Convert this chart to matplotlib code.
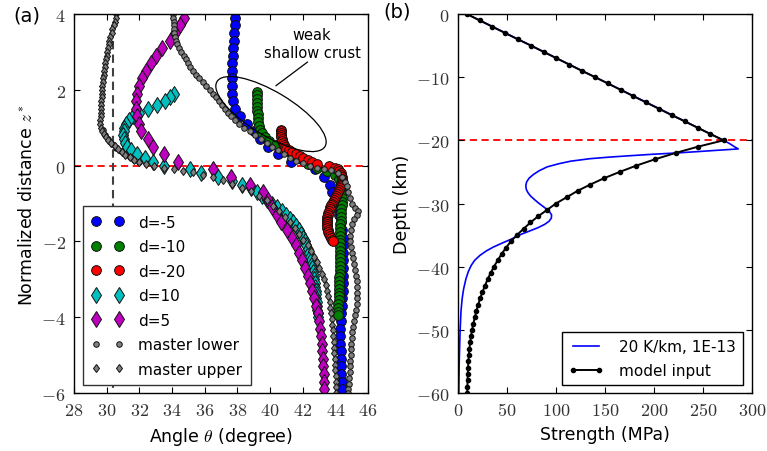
import matplotlib
matplotlib.use("Agg")
import matplotlib.pyplot as plt
from matplotlib.patches import Ellipse
from matplotlib.ticker import FuncFormatter, MultipleLocator
from matplotlib.transforms import ScaledTranslation

plt.rcParams["font.family"] = ["DejaVu Sans"]
plt.rcParams["mathtext.fontset"] = "cm"

# ---- panel (a): (normalized distance z*, angle theta) ----
D_M5 = [(3.9, 37.88), (3.7, 37.84), (3.5, 37.80), (3.3, 37.78), (3.1, 37.75), (2.9, 37.72),
        (2.7, 37.69), (2.5, 37.67), (2.3, 37.65), (2.1, 37.65), (1.9, 37.67), (1.7, 37.72),
        (1.5, 37.84), (1.3, 38.15), (1.1, 38.60), (0.9, 39.00), (0.7, 39.40), (0.5, 39.85),
        (0.3, 40.50), (0.1, 41.30), (-0.1, 42.75), (-0.3, 43.30), (-0.5, 43.65), (-0.7, 43.82),
        (-0.9, 43.98), (-1.1, 44.10), (-1.3, 44.25), (-1.5, 44.35), (-1.7, 44.42), (-1.9, 44.46),
        (-2.1, 44.48), (-2.3, 44.48), (-2.5, 44.48), (-2.7, 44.47), (-2.9, 44.46), (-3.1, 44.45),
        (-3.3, 44.44), (-3.5, 44.42), (-3.7, 44.40), (-3.9, 44.36), (-4.1, 44.32), (-4.3, 44.30),
        (-4.5, 44.30), (-4.7, 44.31), (-4.9, 44.33), (-5.1, 44.35), (-5.3, 44.36), (-5.5, 44.37),
        (-5.7, 44.38), (-5.9, 44.39)]

D_M10 = [(1.95, 39.19), (1.85, 39.20), (1.75, 39.20), (1.65, 39.21), (1.55, 39.22), (1.45, 39.23),
         (1.35, 39.24), (1.25, 39.26), (1.15, 39.28), (1.05, 39.32), (0.95, 39.40), (0.85, 39.50),
         (0.75, 39.68), (0.65, 39.95), (0.55, 40.35), (0.45, 40.80), (0.35, 41.25), (0.25, 41.65),
         (0.15, 42.00), (0.05, 42.30), (-0.05, 42.85), (-0.15, 43.50), (-0.25, 43.95), (-0.35, 44.20),
         (-0.45, 44.33), (-0.55, 44.38), (-0.65, 44.40), (-0.75, 44.40), (-0.85, 44.40), (-0.95, 44.39),
         (-1.05, 44.38), (-1.15, 44.37), (-1.25, 44.36), (-1.35, 44.35), (-1.45, 44.33), (-1.55, 44.31),
         (-1.65, 44.30), (-1.75, 44.29), (-1.85, 44.28), (-1.95, 44.27), (-2.05, 44.26), (-2.15, 44.26),
         (-2.25, 44.26), (-2.35, 44.27), (-2.45, 44.28), (-2.55, 44.28), (-2.65, 44.28), (-2.75, 44.27),
         (-2.85, 44.26), (-2.95, 44.25), (-3.05, 44.24), (-3.15, 44.23), (-3.25, 44.22), (-3.35, 44.21),
         (-3.45, 44.20), (-3.55, 44.20), (-3.65, 44.19), (-3.75, 44.19), (-3.85, 44.19), (-3.95, 44.19)]

D_M20 = [(0.95, 40.68), (0.90, 40.68), (0.85, 40.69), (0.80, 40.69), (0.75, 40.70), (0.70, 40.71),
         (0.65, 40.74), (0.60, 40.78), (0.55, 40.84), (0.50, 40.90), (0.45, 41.00), (0.40, 41.15),
         (0.35, 41.35), (0.30, 41.60), (0.25, 41.85), (0.20, 42.05), (0.15, 42.30), (0.10, 42.55),
         (0.05, 42.85), (0.00, 43.60), (-0.05, 44.00), (-0.10, 44.15), (-0.15, 44.25), (-0.20, 44.32),
         (-0.25, 44.36), (-0.30, 44.38), (-0.35, 44.39), (-0.40, 44.39), (-0.45, 44.38), (-0.50, 44.35),
         (-0.55, 44.32), (-0.60, 44.28), (-0.65, 44.23), (-0.70, 44.17), (-0.75, 44.11), (-0.80, 44.05),
         (-0.85, 43.99), (-0.90, 43.93), (-0.95, 43.87), (-1.00, 43.81), (-1.05, 43.75), (-1.10, 43.70),
         (-1.15, 43.65), (-1.20, 43.60), (-1.25, 43.56), (-1.30, 43.52), (-1.35, 43.50), (-1.40, 43.48),
         (-1.45, 43.47), (-1.50, 43.47), (-1.55, 43.48), (-1.60, 43.49), (-1.65, 43.51), (-1.70, 43.54),
         (-1.75, 43.57), (-1.80, 43.61), (-1.85, 43.66), (-1.90, 43.72), (-1.95, 43.78), (-2.00, 43.84)]

D_P10 = [(1.9, 34.15), (1.8, 33.90), (1.7, 33.55), (1.6, 33.10), (1.5, 32.55), (1.4, 31.98),
         (1.3, 31.62), (1.2, 31.37), (1.1, 31.20), (1.0, 31.08), (0.9, 31.03), (0.8, 31.02),
         (0.7, 31.04), (0.6, 31.10), (0.5, 31.25), (0.4, 31.50), (0.3, 31.85), (0.2, 32.35),
         (0.1, 32.85), (0.0, 33.50), (-0.1, 35.10), (-0.2, 35.80), (-0.3, 36.80), (-0.4, 37.70),
         (-0.5, 38.30), (-0.6, 38.85), (-0.7, 39.20), (-0.8, 39.50), (-0.9, 39.80), (-1.0, 40.15),
         (-1.1, 40.45), (-1.2, 40.75), (-1.3, 41.00), (-1.4, 41.20), (-1.5, 41.40), (-1.6, 41.58),
         (-1.7, 41.75), (-1.8, 41.90), (-1.9, 42.02), (-2.0, 42.12), (-2.1, 42.22), (-2.2, 42.30),
         (-2.3, 42.38), (-2.4, 42.45), (-2.5, 42.50), (-2.6, 42.55), (-2.7, 42.60), (-2.8, 42.64),
         (-2.9, 42.68), (-3.0, 42.71), (-3.1, 42.74), (-3.2, 42.77), (-3.3, 42.79), (-3.4, 42.81),
         (-3.5, 42.83), (-3.6, 42.85), (-3.7, 42.87), (-3.8, 42.89), (-3.9, 42.91), (-4.0, 42.93)]

D_P5 = [(3.9, 34.74), (3.7, 34.50), (3.5, 34.20), (3.3, 33.90), (3.1, 33.40), (2.9, 33.05),
        (2.7, 32.70), (2.5, 32.40), (2.3, 32.18), (2.1, 31.98), (1.9, 31.86), (1.7, 31.78),
        (1.5, 31.77), (1.3, 31.83), (1.1, 31.95), (0.9, 32.10), (0.7, 32.50), (0.5, 32.86),
        (0.3, 33.50), (0.1, 34.35), (-0.1, 36.50), (-0.3, 37.60), (-0.5, 38.75), (-0.7, 39.60),
        (-0.9, 39.90), (-1.1, 40.15), (-1.3, 40.40), (-1.5, 40.70), (-1.7, 41.05), (-1.9, 41.35),
        (-2.1, 41.60), (-2.3, 41.80), (-2.5, 41.98), (-2.7, 42.17), (-2.9, 42.33), (-3.1, 42.45),
        (-3.3, 42.60), (-3.5, 42.70), (-3.7, 42.83), (-3.9, 42.93), (-4.1, 43.02), (-4.3, 43.08),
        (-4.5, 43.13), (-4.7, 43.17), (-4.9, 43.20), (-5.1, 43.23), (-5.3, 43.26), (-5.5, 43.28),
        (-5.7, 43.30), (-5.9, 43.31)]

MASTER_LOWER = [(4.0, 34.07), (3.9, 34.08), (3.8, 34.10), (3.7, 34.11), (3.6, 34.12), (3.5, 34.13),
                (3.4, 34.18), (3.3, 34.25), (3.2, 34.33), (3.1, 34.45), (3.0, 34.58), (2.9, 34.72),
                (2.8, 34.86), (2.7, 35.00), (2.6, 35.12), (2.5, 35.30), (2.4, 35.48), (2.3, 35.68),
                (2.2, 35.90), (2.1, 36.10), (2.0, 36.30), (1.9, 36.48), (1.8, 36.67), (1.7, 36.85),
                (1.6, 37.03), (1.5, 37.22), (1.4, 37.42), (1.3, 37.62), (1.2, 37.85), (1.1, 38.10),
                (1.0, 38.40), (0.9, 38.75), (0.8, 39.10), (0.7, 39.45), (0.6, 39.80), (0.5, 40.15),
                (0.4, 40.50), (0.3, 40.85), (0.2, 41.20), (0.12, 41.60), (0.06, 42.00), (0.0, 42.45),
                (-0.05, 42.90), (-0.09, 43.30), (-0.12, 43.75), (-0.2, 44.15), (-0.3, 44.40),
                (-0.42, 44.58), (-0.55, 44.70), (-0.7, 44.80), (-0.85, 44.90), (-1.0, 45.02),
                (-1.12, 45.20), (-1.2, 45.40), (-1.3, 45.30), (-1.42, 45.15), (-1.55, 45.03),
                (-1.7, 44.95), (-1.85, 44.92), (-2.0, 44.92), (-2.15, 44.97), (-2.3, 45.05),
                (-2.45, 45.10), (-2.6, 45.17), (-2.75, 45.22), (-2.9, 45.26), (-3.05, 45.30),
                (-3.2, 45.33), (-3.35, 45.35), (-3.5, 45.35), (-3.65, 45.32), (-3.8, 45.27),
                (-3.95, 45.22), (-4.1, 45.16), (-4.25, 45.10), (-4.4, 45.05), (-4.55, 45.00),
                (-4.7, 44.97), (-4.85, 44.95), (-5.0, 44.93), (-5.15, 44.91), (-5.3, 44.89),
                (-5.45, 44.87), (-5.6, 44.85), (-5.75, 44.83), (-5.9, 44.80), (-6.0, 44.78),
                (0.95, 29.75), (0.82, 29.90), (0.7, 30.10), (0.58, 30.35), (0.47, 30.60),
                (0.38, 30.85), (0.3, 31.10), (0.22, 31.40), (0.15, 31.70), (0.1, 32.00)]

MASTER_UPPER = [(4.0, 30.60), (3.9, 30.55), (3.8, 30.50), (3.7, 30.42), (3.6, 30.35), (3.5, 30.30),
                (3.4, 30.22), (3.3, 30.15), (3.2, 30.12), (3.1, 30.10), (3.0, 30.05), (2.9, 30.00),
                (2.8, 29.96), (2.7, 29.92), (2.6, 29.88), (2.5, 29.85), (2.4, 29.82), (2.3, 29.79),
                (2.2, 29.76), (2.1, 29.74), (2.0, 29.72), (1.9, 29.70), (1.8, 29.69), (1.7, 29.68),
                (1.6, 29.67), (1.5, 29.66), (1.4, 29.65), (1.3, 29.63), (1.2, 29.62), (1.1, 29.62),
                (1.0, 29.65), (0.92, 29.72), (0.84, 29.82), (0.76, 29.95), (0.68, 30.10), (0.6, 30.28),
                (0.52, 30.48), (0.44, 30.70), (0.36, 30.92), (0.29, 31.15), (0.22, 31.40), (0.16, 31.68),
                (0.1, 32.00), (0.04, 32.40), (-0.01, 32.90), (-0.05, 33.50), (-0.09, 34.10),
                (-0.13, 34.70), (-0.18, 35.30), (-0.24, 35.90), (-0.31, 36.50), (-0.39, 37.10),
                (-0.48, 37.70), (-0.58, 38.30), (-0.68, 38.85), (-0.8, 39.35), (-0.92, 39.80),
                (-1.06, 40.20), (-1.2, 40.55), (-1.35, 40.90), (-1.5, 41.20), (-1.65, 41.50),
                (-1.8, 41.80), (-1.95, 42.05), (-2.1, 42.30), (-2.25, 42.50), (-2.4, 42.70),
                (-2.55, 42.88), (-2.7, 43.03), (-2.85, 43.17), (-3.0, 43.30), (-3.15, 43.40),
                (-3.3, 43.50), (-3.45, 43.58), (-3.6, 43.65), (-3.75, 43.70), (-3.9, 43.75),
                (-4.05, 43.79), (-4.2, 43.82), (-4.35, 43.85), (-4.5, 43.87), (-4.65, 43.89),
                (-4.8, 43.91), (-4.95, 43.93), (-5.1, 43.95), (-5.25, 43.97), (-5.4, 43.99),
                (-5.55, 44.01), (-5.7, 44.03), (-5.85, 44.05), (-6.0, 44.07)]

SERIES_A = [
    ("d=-5", D_M5, "o", "#0000ff", 7.0),
    ("d=-10", D_M10, "o", "#008000", 7.0),
    ("d=-20", D_M20, "o", "#ff0000", 7.0),
    ("d=10", D_P10, "d", "#00bfbf", 8.0),
    ("d=5", D_P5, "d", "#bf00bf", 8.0),
    ("master lower", MASTER_LOWER, "o", "#808080", 4.0),
    ("master upper", MASTER_UPPER, "d", "#808080", 4.5),
]

# ---- panel (b): depth (km), strength (MPa) ----
MODEL_DEPTH = [0, -1, -2, -3, -4, -5, -6, -7, -8, -9, -10, -11, -12, -13, -14, -15, -16, -17, -18,
               -19, -20, -21, -22, -23, -24, -25, -26, -27, -28, -29, -30, -31, -32, -33, -34, -35,
               -36, -37, -38, -39, -40, -41, -42, -43, -44, -45, -46, -47, -48, -49, -50, -51, -52,
               -53, -54, -55, -56, -57, -58, -59, -60]
MODEL_STRENGTH = [9, 22, 35, 48, 61, 74.5, 87.5, 100.5, 113.5, 126.5, 140, 153, 166, 179, 192, 205,
                  218, 231.5, 244.5, 257.5, 271, 245, 222, 201, 182, 165, 149, 135, 122, 111, 100,
                  91, 82, 74, 67, 60, 54, 49, 44.5, 40.5, 36.7, 33.3, 30.2, 27.6, 25, 22.7, 20.6,
                  18.8, 17.2, 15.7, 14.4, 13.3, 12.4, 11.7, 11.1, 10.6, 10.3, 10, 9.8, 9.6, 9.5]

FLOW_DEPTH = [0, -10, -20, -20.5, -21.0, -21.36, -21.55, -21.8, -22.0, -22.2, -22.4, -22.65, -22.9,
              -23.3, -23.7, -24.2, -24.8, -25.4, -26.0, -26.6, -27.2, -27.8, -28.3, -28.8, -29.3,
              -29.9, -30.6, -31.2, -31.8, -32.3, -32.8, -33.3, -33.8, -34.3, -34.9, -35.6, -36.2,
              -36.9, -37.5, -38.2, -39.0, -39.8, -40.8, -42.0, -43.5, -45, -47, -50, -55, -60]
FLOW_STRENGTH = [9, 140, 271, 277, 282, 286, 267, 243, 223, 199, 179, 155, 135, 115, 103, 91, 83,
                 77, 72.5, 70, 69.2, 69.8, 71.5, 74, 77.5, 82, 88, 93, 95.5, 95.3, 93, 88.5, 82,
                 74, 64, 55, 46, 36, 29, 22.5, 17, 13.5, 10.5, 8, 5.8, 4.3, 3.1, 2.2, 1.3, 0.8]


def cm_ticks(ax):
    fmt = FuncFormatter(lambda v, _: f"${v:g}$")
    ax.xaxis.set_major_formatter(fmt)
    ax.yaxis.set_major_formatter(fmt)
    ax.tick_params(direction="in", top=True, right=True, length=4, width=0.8,
                   labelsize=13, pad=6, labelcolor="#333333")
    for sp in ax.spines.values():
        sp.set_linewidth(1.0)


fig = plt.figure(figsize=(7.67, 4.52), dpi=100)
axa = fig.add_axes([0.0965, 0.1283, 0.3833, 0.8385])
axb = fig.add_axes([0.5971, 0.1283, 0.3833, 0.8385])

# panel (a)
axa.axhline(0, color="#ff0000", ls=(0, (4, 2.5)), lw=1.3, zorder=1)
axa.plot([30.4, 30.4], [3.3, -6], color="#404040", ls=(0, (4, 2.5)), lw=1.5, zorder=1)
for label, pts, marker, color, ms in SERIES_A:
    z = [p[0] for p in pts]
    ang = [p[1] for p in pts]
    axa.plot(ang, z, ls="none", marker=marker, ms=ms, mfc=color, mec="#111111",
             mew=0.7, label=label, zorder=2)

trans = fig.dpi_scale_trans + ScaledTranslation(40.06, 1.36, axa.transData)
axa.add_patch(Ellipse((0, 0), 1.26, 0.44, angle=-31, transform=trans, fill=False,
                      ec="black", lw=0.9, zorder=4))
axa.plot([40.37, 42.29], [2.11, 2.73], color="black", lw=0.9, zorder=4)
axa.text(42.57, 3.23, "weak\nshallow crust", ha="center", va="center", fontsize=10.5,
         linespacing=1.25)

axa.set_xlim(28, 46)
axa.set_ylim(-6, 4)
axa.xaxis.set_major_locator(MultipleLocator(2))
axa.yaxis.set_major_locator(MultipleLocator(2))
cm_ticks(axa)
axa.set_xlabel(r"Angle $\theta$ (degree)", fontsize=12.5)
axa.set_ylabel(r"Normalized distance $z^*$", fontsize=12.5)
leg = axa.legend(loc="lower left", bbox_to_anchor=(0.031, 0.021), borderaxespad=0,
                 numpoints=2, fancybox=False, edgecolor="#333333", framealpha=1,
                 fontsize=11, handlelength=2.1, handletextpad=0.95, labelspacing=0.62,
                 borderpad=0.55)
leg.get_frame().set_linewidth(1.0)
leg.set_zorder(5)

# panel (b)
axb.axhline(-20, color="#ff0000", ls=(0, (4, 2.5)), lw=1.3, zorder=1)
axb.plot(FLOW_STRENGTH, FLOW_DEPTH, color="#0000ff", lw=1.2, label="20 K/km, 1E-13")
axb.plot(MODEL_STRENGTH, MODEL_DEPTH, color="black", lw=1.4, marker="o", ms=3,
         label="model input")
axb.set_xlim(0, 300)
axb.set_ylim(-60, 0)
axb.xaxis.set_major_locator(MultipleLocator(50))
axb.yaxis.set_major_locator(MultipleLocator(10))
cm_ticks(axb)
axb.set_xlabel("Strength (MPa)", fontsize=12.5)
axb.set_ylabel("Depth (km)", fontsize=12.5)
legb = axb.legend(loc="lower right", bbox_to_anchor=(0.969, 0.021), borderaxespad=0,
                  numpoints=2, fancybox=False, edgecolor="black", framealpha=1,
                  fontsize=11, handlelength=2.3, handletextpad=1.0, labelspacing=0.6,
                  borderpad=0.45)
legb.get_frame().set_linewidth(1.0)

fig.text(13 / 767, 1 - 16.5 / 452, "(a)", fontsize=14, ha="left", va="center")
fig.text(383 / 767, 1 - 12.5 / 452, "(b)", fontsize=14, ha="left", va="center")

fig.savefig("out.png", dpi=100)
